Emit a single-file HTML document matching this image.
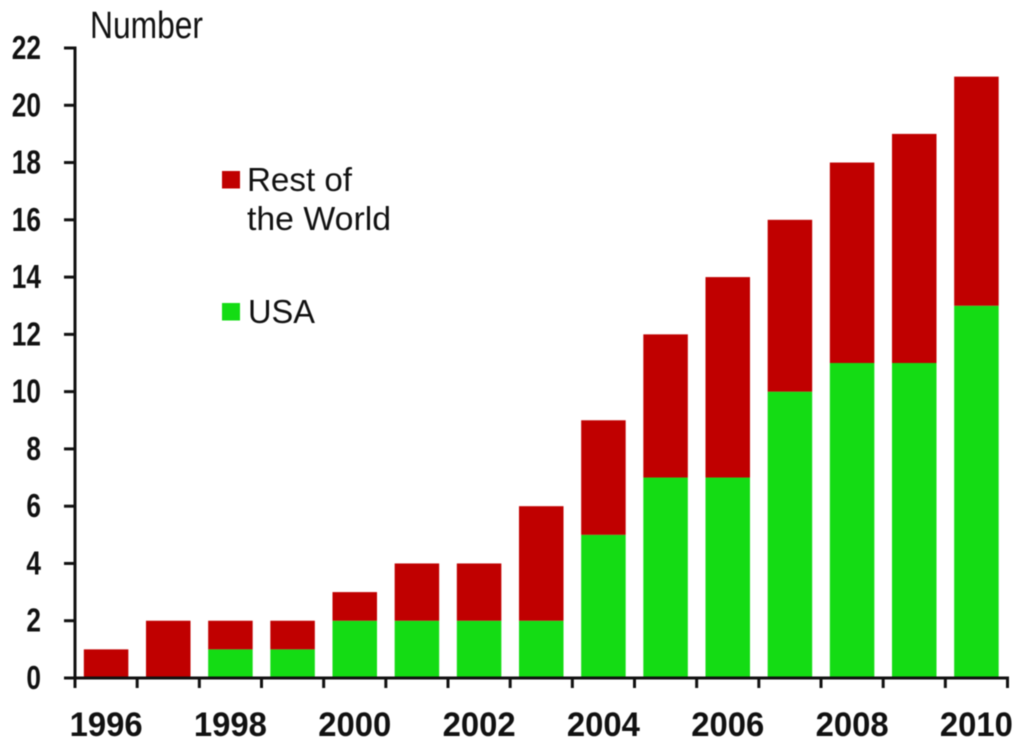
<!DOCTYPE html>
<html>
<head>
<meta charset="utf-8">
<title>Number by year</title>
<style>
html,body{margin:0;padding:0;background:#fff;width:1024px;height:752px;overflow:hidden}
svg{display:block;position:absolute;left:0;top:0}
text{font-family:"Liberation Sans",sans-serif;fill:#111}
</style>
</head>
<body>
<svg id="chart" width="1024" height="752" viewBox="0 0 1024 752" xmlns="http://www.w3.org/2000/svg">
  <g id="bars" style="filter:blur(0.5px)"></g>
  <g id="axes" style="filter:blur(0.4px)"></g>
  <g id="labels" style="filter:blur(0.5px)"></g>
  <text x="90" y="38" font-size="38" textLength="113" lengthAdjust="spacingAndGlyphs" style="filter:blur(0.5px)">Number</text>
  <g style="filter:blur(0.5px)">
    <rect x="222" y="171" width="18" height="17.5" fill="#C00000"></rect>
    <text x="247" y="191" font-size="33" textLength="105" lengthAdjust="spacingAndGlyphs">Rest of</text>
    <text x="247" y="230" font-size="33" textLength="144" lengthAdjust="spacingAndGlyphs">the World</text>
    <rect x="222" y="303" width="18" height="17.5" fill="#14DC14"></rect>
    <text x="248" y="323" font-size="33" textLength="67" lengthAdjust="spacingAndGlyphs">USA</text>
  </g>
</svg>
<script>
const years = [1996,1997,1998,1999,2000,2001,2002,2003,2004,2005,2006,2007,2008,2009,2010];
const usaValues = [0,0,1,1,2,2,2,2,5,7,7,10,11,11,13];
const restValues = [1,2,1,1,1,2,2,4,4,5,7,6,7,8,8];
const yTicks = [0,2,4,6,8,10,12,14,16,18,20,22];
const xTickLabels = [1996,1998,2000,2002,2004,2006,2008,2010];

const NS = 'http://www.w3.org/2000/svg';
const plotLeft = 75, plotRight = 1007.5, plotBottom = 678, plotTop = 48, yMax = 22;
const slot = (plotRight - plotLeft) / years.length;
const barWidth = slot * 0.716;
function yScale(v){ return plotBottom - (v / yMax) * (plotBottom - plotTop); }
function xSlot(i){ return plotLeft + i * slot; }
function xCenter(i){ return xSlot(i) + slot / 2; }
function make(tag, attrs, parent){
  const el = document.createElementNS(NS, tag);
  for (const k in attrs) el.setAttribute(k, attrs[k]);
  parent.appendChild(el);
  return el;
}
const barsG = document.getElementById('bars');
const axesG = document.getElementById('axes');
const labelsG = document.getElementById('labels');

years.forEach(function(year, i){
  const usa = usaValues[i], rest = restValues[i];
  const x = xCenter(i) - barWidth / 2;
  if (usa > 0) {
    const g = make('rect', {x:x, y:yScale(usa), width:barWidth, height:yScale(0)-yScale(usa), fill:'#14DC14'}, barsG);
    
    
  }
  if (rest > 0) {
    const r = make('rect', {x:x, y:yScale(usa+rest), width:barWidth, height:yScale(usa)-yScale(usa+rest), fill:'#C00000'}, barsG);
    
    
  }
});

const yAxisLine = make('line', {x1:plotLeft, x2:plotLeft, y1:plotTop-1.5, y2:plotBottom+1, stroke:'#111', 'stroke-width':3}, axesG);


const xAxisLine = make('line', {x1:plotLeft-11, x2:plotRight+1.5, y1:plotBottom, y2:plotBottom, stroke:'#111', 'stroke-width':3}, axesG);



yTicks.forEach(function(v){
  const y = yScale(v);
  const t = make('line', {x1:plotLeft-11, x2:plotLeft, y1:y, y2:y, stroke:'#111', 'stroke-width':3}, axesG);
  
  
  const label = make('text', {x:41, y:y+11, 'font-size':33, 'font-weight':'bold', 'text-anchor':'end', textLength:(String(v).length*14.6), lengthAdjust:'spacingAndGlyphs'}, labelsG);
  label.textContent = v;
  
  
});

for (let i = 0; i <= years.length; i++) {
  const x = xSlot(i);
  const t = make('line', {x1:x, x2:x, y1:plotBottom, y2:plotBottom+10, stroke:'#111', 'stroke-width':3}, axesG);
  
  
}

xTickLabels.forEach(function(year){
  const i = years.indexOf(year);
  const label = make('text', {x:xCenter(i), y:736, 'font-size':34, 'font-weight':'bold', 'text-anchor':'middle', textLength:73, lengthAdjust:'spacingAndGlyphs'}, labelsG);
  label.textContent = year;
  
  
});
</script>
</body>
</html>
